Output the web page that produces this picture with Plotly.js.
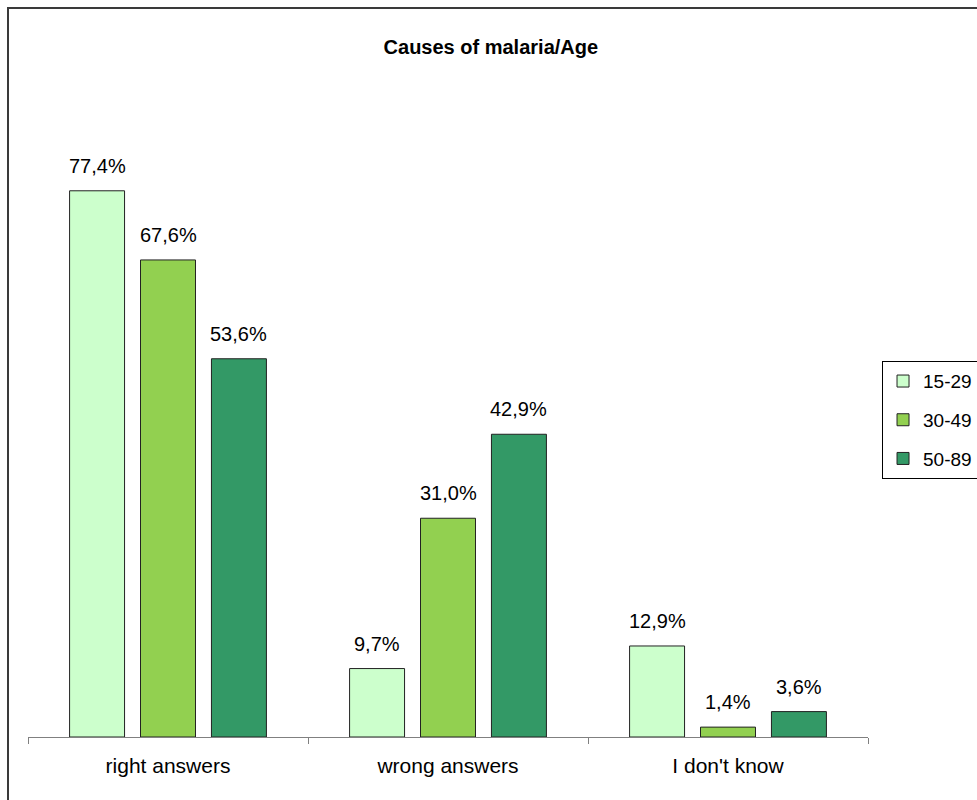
<!DOCTYPE html>
<html>
<head>
<meta charset="utf-8">
<script src="https://cdn.plot.ly/plotly-3.0.1.min.js"></script>
<style>
html,body{margin:0;padding:0;background:#fff;overflow:hidden;}
#wrap{position:relative;width:977px;height:800px;overflow:hidden;}
#chart{position:absolute;left:0;top:0;width:1000px;height:800px;}
#frame{position:absolute;left:7px;top:7px;width:1000px;height:1000px;border:2px solid #3a3a3a;pointer-events:none;}
</style>
</head>
<body>
<div id="wrap"><div id="chart"></div><div id="frame"></div></div>
<script>
const categories = ["right answers", "wrong answers", "I don't know"];
const seriesNames = ["15-29", "30-49", "50-89"];
const age15_29 = [77.4, 9.7, 12.9];
const age30_49 = [67.6, 31.0, 1.4];
const age50_89 = [53.6, 42.9, 3.6];
const seriesValues = [age15_29, age30_49, age50_89];
const colors = ["#CCFFCC", "#92D050", "#339966"];

const fmt = v => v.toFixed(1).replace('.', ',') + '%';
const FONT = 'Liberation Sans, Arial, sans-serif';

const traces = seriesValues.map((vals, i) => ({
  type: 'bar',
  name: seriesNames[i],
  x: categories,
  y: vals,
  legendgroup: 'g' + i,
  marker: {color: colors[i], line: {color: '#222', width: 1}},
  hoverinfo: 'none'
}));

const bargap = 0.24, groupSlot = (1 - bargap) / 3;
const annotations = [];
seriesValues.forEach((vals, i) => {
  vals.forEach((v, j) => {
    annotations.push({
      x: j + (i - 1) * groupSlot, y: v, xref: 'x', yref: 'y',
      text: fmt(v), showarrow: false, yanchor: 'bottom', yshift: 12,
      font: {family: FONT, size: 20, color: '#000'}
    });
  });
});

const layout = {
  width: 1000, height: 800,
  margin: {l: 28, r: 132, t: 80, b: 63},
  paper_bgcolor: 'rgba(0,0,0,0)', plot_bgcolor: 'rgba(0,0,0,0)',
  font: {family: FONT, size: 20, color: '#000'},
  title: {text: '<b>Causes of malaria/Age</b>', x: 0.551, xref: 'paper', xanchor: 'center', y: 0.941, yanchor: 'middle',
          font: {family: FONT, size: 20, color: '#000'}},
  barmode: 'group', bargap: bargap, bargroupgap: 0.225,
  xaxis: {type: 'category', range: [-0.5, 2.5], showline: true, linecolor: '#808080', linewidth: 1,
          ticks: 'outside', tickson: 'boundaries', ticklen: 6, tickcolor: '#808080', tickwidth: 1,
          ticklabelstandoff: 10,
          showgrid: false, zeroline: false, fixedrange: true,
          tickfont: {family: FONT, size: 21, color: '#000'}},
  yaxis: {range: [0, 93.1], visible: false, showgrid: false, zeroline: false, fixedrange: true},
  showlegend: true,
  legend: {x: 1.0167, xanchor: 'left', y: 0.572, yanchor: 'top', bordercolor: '#000', borderwidth: 1,
           bgcolor: '#fff', traceorder: 'grouped', tracegroupgap: 11,
           font: {family: FONT, size: 19, color: '#000'}},
  annotations: annotations
};

Plotly.newPlot('chart', traces, layout, {displayModeBar: false, staticPlot: true});
</script>
</body>
</html>
